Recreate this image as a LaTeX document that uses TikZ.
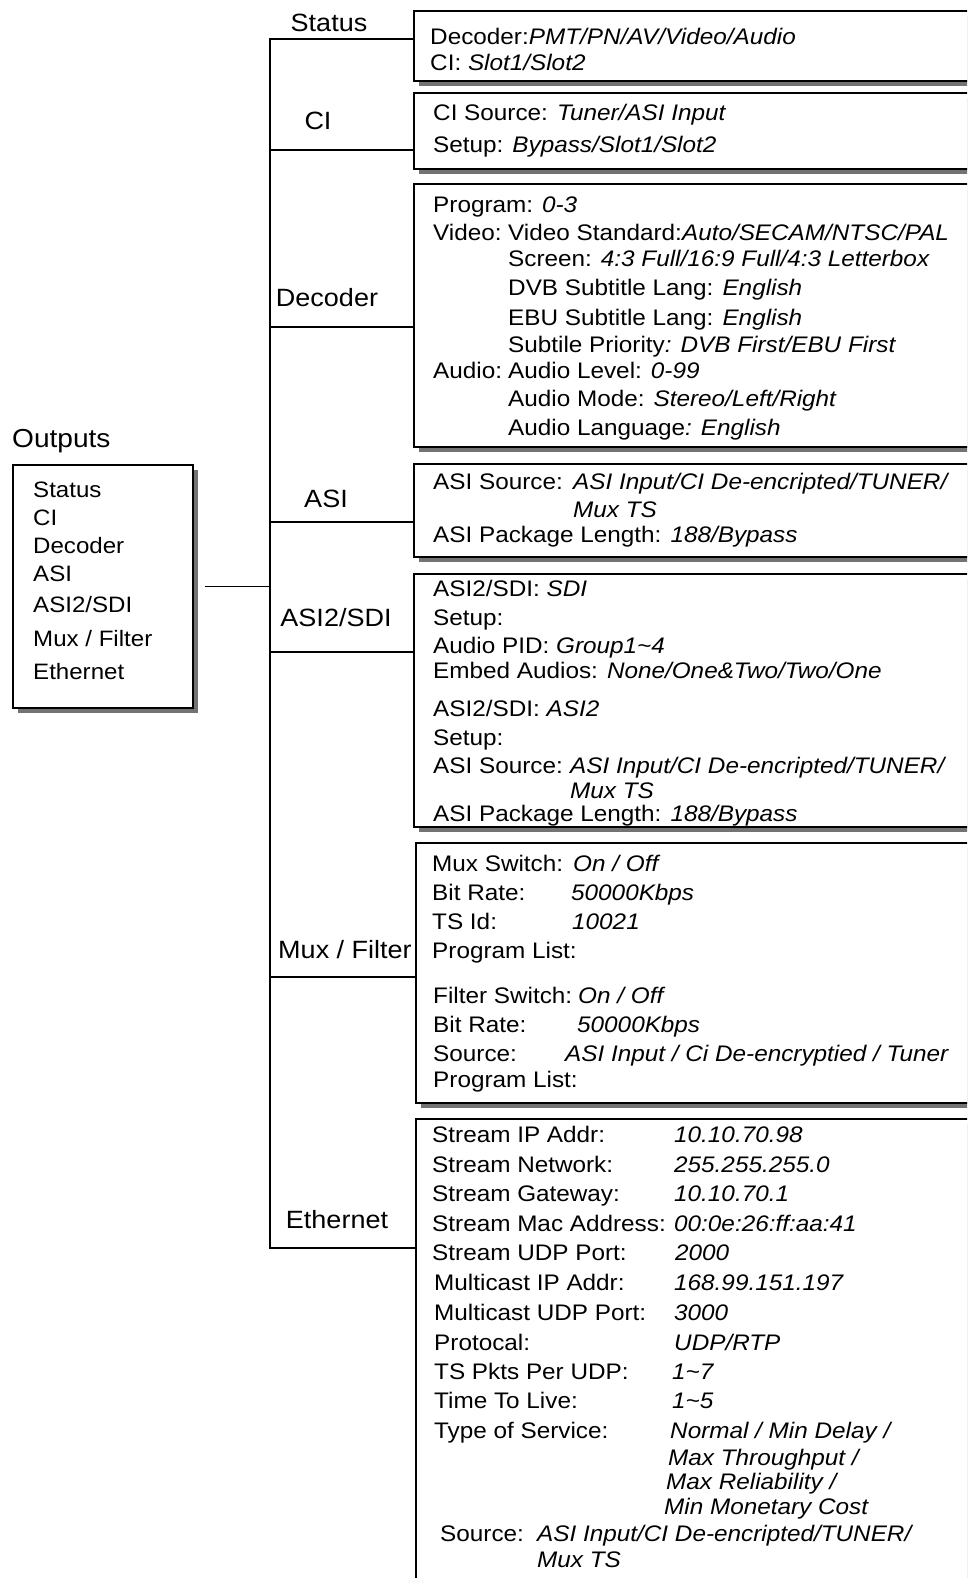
\documentclass[tikz,border=0pt]{standalone}
\usepackage{fontspec}
\setmainfont{Liberation Sans}[FakeStretch=1.08]
\usetikzlibrary{shadows}

\tikzset{
  panel/.style={draw, line width=1.6pt, fill=white, anchor=north west, inner sep=0pt, minimum width=600,
    drop shadow={shadow xshift=5pt, shadow yshift=-5pt, fill=black!55, opacity=1}},
  txt/.style={anchor=west, inner sep=0pt, text height=18pt, text depth=0pt},
  branchlbl/.style={inner sep=0pt, font=\fontsize{25}{30}\selectfont},
  wire/.style={line width=1.6pt},
}

\begin{document}
\begin{tikzpicture}[x=1pt,y=-1pt,font=\fontsize{22.5}{26}\selectfont]
\useasboundingbox (0,0) rectangle (967,1578);
\clip (0,0) rectangle (967,1578);

\node[anchor=west, inner sep=0pt, font=\fontsize{26}{30}\selectfont] (outlbl) at (12,441) {Outputs};
\node[panel, minimum width=180, minimum height=243] (outbox) at (12,464) {};
\begin{scope}[font=\fontsize{22.3}{26}\selectfont]
    \node[txt] (o1) at (33,488) {Status};
    \node[txt] (o2) at (33,516) {CI};
    \node[txt] (o3) at (33,544) {Decoder};
    \node[txt] (o4) at (33,572) {ASI};
    \node[txt] (o5) at (33,603) {ASI2/SDI};
    \node[txt] (o6) at (33,637) {Mux / Filter};
    \node[txt] (o7) at (33,670) {Ethernet};
\end{scope}

\node[panel, minimum height=70] (pStatus) at (413,10) {};
\node[panel, minimum height=76] (pCI) at (413,92) {};
\node[panel, minimum height=263] (pDecoder) at (413,183) {};
\node[panel, minimum height=93] (pASI) at (413,463) {};
\node[panel, minimum height=253] (pSDI) at (413,573) {};
\node[panel, minimum height=260] (pMux) at (415,842) {};
\node[panel, minimum height=500] (pEth) at (415,1118) {};

\coordinate (tStatus) at (270,39);
\coordinate (tCI) at (270,150);
\coordinate (tDecoder) at (270,327);
\coordinate (tASI) at (270,522);
\coordinate (tSDI) at (270,652);
\coordinate (tMux) at (270,977);
\coordinate (tEth) at (270,1248);

\draw[wire] (pStatus.west |- tStatus) -- (tStatus) -- (tEth) -- (pEth.west |- tEth);
\draw[wire] (tCI) -- (pCI.west |- tCI);
\draw[wire] (tDecoder) -- (pDecoder.west |- tDecoder);
\draw[wire] (tASI) -- (pASI.west |- tASI);
\draw[wire] (tSDI) -- (pSDI.west |- tSDI);
\draw[wire] (tMux) -- (pMux.west |- tMux);
\draw[wire] ([xshift=11pt]outbox.east) -- (outbox.east -| tStatus);

\node[branchlbl] (bStatus) at (329,23) {Status};
\node[branchlbl] (bCI) at (318,121) {CI};
\node[branchlbl] (bDecoder) at (327,298) {Decoder};
\node[branchlbl] (bASI) at (326,499) {ASI};
\node[branchlbl] (bSDI) at (336,618) {ASI2/SDI};
\node[branchlbl] (bMux) at (345,950) {Mux / Filter};
\node[branchlbl] (bEth) at (337,1220) {Ethernet};

\node[txt] (s1) at (430,36) {Decoder:\textit{PMT/PN/AV/Video/Audio}};
\node[txt] (s2) at (430,62) {CI: \textit{Slot1/Slot2}};

\node[txt] (c1) at (433,112) {CI Source: \textit{Tuner/ASI Input}};
\node[txt] (c2) at (433,144) {Setup: \textit{Bypass/Slot1/Slot2}};

\node[txt] (d1) at (433,204) {Program: \textit{0-3}};
\node[txt] (d2) at (433,232) {Video:};
\node[txt] (d2v) at (508,232) {Video Standard:\textit{Auto/SECAM/NTSC/PAL}};
\node[txt] (d3) at (508,258) {Screen: \textit{4:3 Full/16:9 Full/4:3 Letterbox}};
\node[txt] (d4) at (508,287) {DVB Subtitle Lang: \textit{English}};
\node[txt] (d5) at (508,316) {EBU Subtitle Lang: \textit{English}};
\node[txt] (d6) at (508,343) {Subtile Priority\textit{: DVB First/EBU First}};
\node[txt] (d7) at (433,369) {Audio:};
\node[txt] (d7v) at (508,369) {Audio Level: \textit{0-99}};
\node[txt] (d8) at (508,397) {Audio Mode: \textit{Stereo/Left/Right}};
\node[txt] (d9) at (508,426) {Audio Language\textit{: English}};

\node[txt] (a1) at (433,480) {ASI Source:};
\node[txt] (a1v) at (573,480) {\textit{ASI Input/CI De-encripted/TUNER/}};
\node[txt] (a2v) at (573,508) {\textit{Mux TS}};
\node[txt] (a3) at (433,533) {ASI Package Length: \textit{188/Bypass}};

\node[txt] (q1) at (433,587) {ASI2/SDI: \textit{SDI}};
\node[txt] (q2) at (433,616) {Setup:};
\node[txt] (q3) at (433,644) {Audio PID: \textit{Group1\textasciitilde4}};
\node[txt] (q4) at (433,669) {Embed Audios: \textit{None/One\&Two/Two/One}};
\node[txt] (q5) at (433,707) {ASI2/SDI: \textit{ASI2}};
\node[txt] (q6) at (433,736) {Setup:};
\node[txt] (q7) at (433,764) {ASI Source:};
\node[txt] (q7v) at (570,764) {\textit{ASI Input/CI De-encripted/TUNER/}};
\node[txt] (q8v) at (570,789) {\textit{Mux TS}};
\node[txt] (q9) at (433,812) {ASI Package Length: \textit{188/Bypass}};

\node[txt] (m1) at (432,862) {Mux Switch:};
\node[txt] (m1v) at (573,862) {\textit{On / Off}};
\node[txt] (m2) at (432,891) {Bit Rate:};
\node[txt] (m2v) at (571,891) {\textit{50000Kbps}};
\node[txt] (m3) at (432,920) {TS Id:};
\node[txt] (m3v) at (572,920) {\textit{10021}};
\node[txt] (m4) at (432,949) {Program List:};
\node[txt] (m5) at (433,994) {Filter Switch:};
\node[txt] (m5v) at (578,994) {\textit{On / Off}};
\node[txt] (m6) at (433,1023) {Bit Rate:};
\node[txt] (m6v) at (577,1023) {\textit{50000Kbps}};
\node[txt] (m7) at (433,1052) {Source:};
\node[txt] (m7v) at (565,1052) {\textit{ASI Input / Ci De-encryptied / Tuner}};
\node[txt] (m8) at (433,1078) {Program List:};

\node[txt] (e1) at (432,1133) {Stream IP Addr:};
\node[txt] (e1v) at (674,1133) {\textit{10.10.70.98}};
\node[txt] (e2) at (432,1163) {Stream Network:};
\node[txt] (e2v) at (674,1163) {\textit{255.255.255.0}};
\node[txt] (e3) at (432,1192) {Stream Gateway:};
\node[txt] (e3v) at (674,1192) {\textit{10.10.70.1}};
\node[txt] (e4) at (432,1222) {Stream Mac Address:};
\node[txt] (e4v) at (674,1222) {\textit{00:0e:26:ff:aa:41}};
\node[txt] (e5) at (432,1251) {Stream UDP Port:};
\node[txt] (e5v) at (675,1251) {\textit{2000}};
\node[txt] (e6) at (434,1281) {Multicast IP Addr:};
\node[txt] (e6v) at (674,1281) {\textit{168.99.151.197}};
\node[txt] (e7) at (434,1311) {Multicast UDP Port:};
\node[txt] (e7v) at (674,1311) {\textit{3000}};
\node[txt] (e8) at (434,1341) {Protocal:};
\node[txt] (e8v) at (674,1341) {\textit{UDP/RTP}};
\node[txt] (e9) at (434,1370) {TS Pkts Per UDP:};
\node[txt] (e9v) at (672,1370) {\textit{1\textasciitilde7}};
\node[txt] (e10) at (434,1399) {Time To Live:};
\node[txt] (e10v) at (672,1399) {\textit{1\textasciitilde5}};
\node[txt] (e11) at (434,1429) {Type of Service:};
\node[txt] (e11v) at (670,1429) {\textit{Normal / Min Delay /}};
\node[txt] (e12v) at (668,1456) {\textit{Max Throughput /}};
\node[txt] (e13v) at (666,1480) {\textit{Max Reliability /}};
\node[txt] (e14v) at (664,1505) {\textit{Min Monetary Cost}};
\node[txt] (e15) at (440,1532) {Source:};
\node[txt] (e15v) at (537,1532) {\textit{ASI Input/CI De-encripted/TUNER/}};
\node[txt] (e16v) at (537,1558) {\textit{Mux TS}};
\end{tikzpicture}
\end{document}
